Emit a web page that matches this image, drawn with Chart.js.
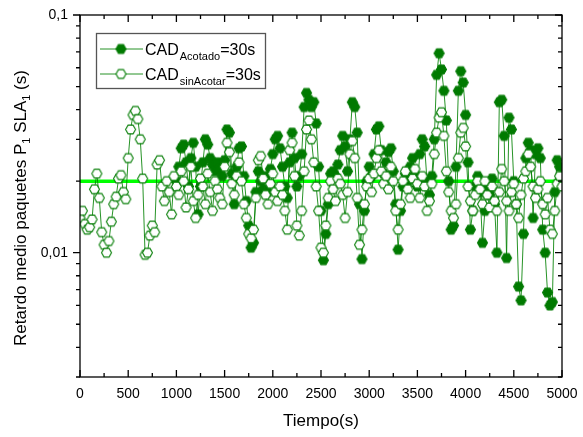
<!DOCTYPE html>
<html><head><meta charset="utf-8">
<script src="https://cdn.jsdelivr.net/npm/chart.js@4.4.1/dist/chart.umd.min.js"></script>
<style>html,body{margin:0;padding:0;background:#fff;overflow:hidden}</style>
</head><body>
<canvas id="c" width="583" height="437"></canvas>
<script>
// ---------- DATA ----------
const times = [
0,25,50,75,100,125,150,175,200,225,250,275,300,325,350,375,400,425,450,475,
500,525,550,575,600,625,650,675,700,725,750,775,800,825,850,875,900,925,950,975,
1000,1025,1050,1075,1100,1125,1150,1175,1200,1225,1250,1275,1300,1325,1350,1375,1400,1425,1450,1475,
1500,1525,1550,1575,1600,1625,1650,1675,1700,1725,1750,1775,1800,1825,1850,1875,1900,1925,1950,1975,
2000,2025,2050,2075,2100,2125,2150,2175,2200,2225,2250,2275,2300,2325,2350,2375,2400,2425,2450,2475,
2500,2525,2550,2575,2600,2625,2650,2675,2700,2725,2750,2775,2800,2825,2850,2875,2900,2925,2950,2975,
3000,3025,3050,3075,3100,3125,3150,3175,3200,3225,3250,3275,3300,3325,3350,3375,3400,3425,3450,3475,
3500,3525,3550,3575,3600,3625,3650,3675,3700,3725,3750,3775,3800,3825,3850,3875,3900,3925,3950,3975,
4000,4025,4050,4075,4100,4125,4150,4175,4200,4225,4250,4275,4300,4325,4350,4375,4400,4425,4450,4475,
4500,4525,4550,4575,4600,4625,4650,4675,4700,4725,4750,4775,4800,4825,4850,4875,4900,4925,4950,4975,
5000];

// CAD_sinAcotar = 30 s (hollow hexagons)
const sinAcotar = [
0.0140,0.0150,0.0132,0.0125,0.0128,0.0138,0.0185,0.0215,0.0170,0.0122,0.0108,0.0100,0.0112,0.0135,0.0160,0.0172,0.0205,0.0212,0.0180,0.0168,
0.0250,0.0330,0.0380,0.0395,0.0365,0.0300,0.0205,0.0098,0.0100,0.0118,0.0130,0.0122,0.0235,0.0245,0.0190,0.0165,0.0200,0.0180,0.0145,0.0210,
0.0190,0.0175,0.0220,0.0200,0.0155,0.0185,0.0230,0.0165,0.0140,0.0175,0.0205,0.0190,0.0160,0.0215,0.0180,0.0150,0.0200,0.0185,0.0170,0.0160,
0.0230,0.0290,0.0265,0.0195,0.0175,0.0210,0.0240,0.0200,0.0160,0.0140,0.0120,0.0115,0.0125,0.0170,0.0245,0.0255,0.0205,0.0175,0.0160,0.0195,
0.0215,0.0180,0.0165,0.0190,0.0175,0.0150,0.0125,0.0270,0.0290,0.0210,0.0130,0.0118,0.0150,0.0220,0.0330,0.0360,0.0300,0.0240,0.0190,0.0150,
0.0105,0.0100,0.0130,0.0170,0.0200,0.0185,0.0165,0.0205,0.0195,0.0175,0.0140,0.0180,0.0260,0.0295,0.0250,0.0170,0.0108,0.0125,0.0160,0.0190,
0.0205,0.0180,0.0215,0.0250,0.0270,0.0220,0.0195,0.0210,0.0185,0.0230,0.0200,0.0150,0.0125,0.0160,0.0200,0.0220,0.0185,0.0170,0.0205,0.0225,
0.0195,0.0170,0.0210,0.0190,0.0150,0.0165,0.0195,0.0260,0.0320,0.0370,0.0390,0.0310,0.0220,0.0180,0.0150,0.0140,0.0160,0.0250,0.0320,0.0335,
0.0280,0.0190,0.0165,0.0150,0.0175,0.0200,0.0185,0.0160,0.0200,0.0175,0.0155,0.0190,0.0165,0.0150,0.0180,0.0225,0.0200,0.0165,0.0150,0.0180,
0.0195,0.0160,0.0140,0.0175,0.0205,0.0220,0.0260,0.0230,0.0190,0.0170,0.0185,0.0200,0.0160,0.0145,0.0170,0.0125,0.0120,0.0150,0.0195,0.0210,
0.0190];

// CAD_Acotado = 30 s (filled hexagons)
const acotado = [
null,null,null,null,null,null,null,null,null,null,null,null,null,null,null,null,null,null,null,null,
null,null,null,null,null,null,null,null,null,null,null,null,null,null,null,null,null,null,null,null,
0.0200,0.0230,0.0275,0.0285,0.0240,0.0190,0.0250,0.0290,0.0230,0.0145,0.0190,0.0240,0.0300,0.0285,0.0250,0.0235,0.0220,0.0240,0.0225,0.0210,
0.0245,0.0330,0.0320,0.0215,0.0160,0.0230,0.0275,0.0280,0.0210,0.0165,0.0130,0.0105,0.0110,0.0180,0.0220,0.0200,0.0185,0.0210,0.0180,0.0225,
0.0260,0.0300,0.0310,0.0275,0.0230,0.0190,0.0170,0.0240,0.0320,0.0250,0.0190,0.0210,0.0260,0.0410,0.0470,0.0440,0.0410,0.0430,0.0350,0.0230,
0.0150,0.0093,0.0120,0.0160,0.0215,0.0220,0.0210,0.0235,0.0270,0.0310,0.0280,0.0220,0.0300,0.0430,0.0410,0.0320,0.0160,0.0094,0.0150,0.0200,
0.0230,0.0210,0.0260,0.0330,0.0340,0.0270,0.0215,0.0240,0.0265,0.0275,0.0220,0.0160,0.0103,0.0150,0.0190,0.0215,0.0200,0.0230,0.0250,0.0215,
0.0190,0.0260,0.0300,0.0280,0.0200,0.0175,0.0210,0.0300,0.0560,0.0690,0.0590,0.0480,0.0360,0.0200,0.0125,0.0130,0.0230,0.0480,0.0580,0.0520,
0.0380,0.0240,0.0125,0.0150,0.0190,0.0210,0.0180,0.0110,0.0150,0.0190,0.0175,0.0205,0.0160,0.0100,0.0430,0.0440,0.0310,0.0095,0.0370,0.0330,
0.0200,0.0160,0.0072,0.0063,0.0120,0.0250,0.0290,0.0270,0.0140,0.0260,0.0275,0.0250,0.0125,0.0100,0.0068,0.0060,0.0062,0.0180,0.0245,0.0230,
0.0210];

// reference level (bright green line)
const refX = [0, 5000];
const refY = [0.02, 0.02];

const xTicks = [0,500,1000,1500,2000,2500,3000,3500,4000,4500,5000];
const yLabels = {"0.1": "0,1", "0.01": "0,01"};
const legendLabels = [
  {main: "CAD", sub: "Acotado", tail: "=30s"},
  {main: "CAD", sub: "sinAcotar", tail: "=30s"}
];
const xTitle = "Tiempo(s)";

// ---------- STYLE ----------
const FONT = '"Liberation Sans", Arial, Helvetica, sans-serif';
const GREEN = '#007a00';
const LINEGREEN = 'rgba(0,128,0,0.85)';

function hexCanvas(fill, stroke, r) {
  const s = Math.ceil(2 * r + 3);
  const c = document.createElement('canvas');
  c.width = s; c.height = s;
  const g = c.getContext('2d');
  const cx = s / 2, cy = s / 2;
  g.beginPath();
  for (let k = 0; k < 6; k++) {
    const a = Math.PI / 3 * k;
    const px = cx + r * Math.cos(a), py = cy + r * Math.sin(a);
    if (k === 0) g.moveTo(px, py); else g.lineTo(px, py);
  }
  g.closePath();
  g.fillStyle = fill; g.fill();
  g.lineWidth = 1.1; g.strokeStyle = stroke; g.stroke();
  return c;
}
const hexFilled = hexCanvas(GREEN, GREEN, 5);
const hexHollow = hexCanvas('#ffffff', '#0b800b', 5);

const toXY = (xs, ys) => xs.map((x, i) => ({x: x, y: ys[i]}));

const decor = {
  id: 'decor',
  afterDraw(chart) {
    const ctx = chart.ctx;
    const a = chart.chartArea;
    const xs = chart.scales.x, ys = chart.scales.y;
    ctx.save();
    // frame
    ctx.strokeStyle = '#000'; ctx.lineWidth = 1.3;
    ctx.strokeRect(a.left, a.top, a.right - a.left, a.bottom - a.top);
    // x ticks (inward, bottom and top)
    for (let v = 0; v <= 5000; v += 250) {
      const px = xs.getPixelForValue(v);
      const len = (v % 500 === 0) ? 7 : 4;
      ctx.beginPath();
      ctx.moveTo(px, a.bottom); ctx.lineTo(px, a.bottom - len);
      ctx.moveTo(px, a.top); ctx.lineTo(px, a.top + len);
      ctx.stroke();
    }
    // y ticks (left outward, right inward)
    for (let e = -3; e <= -1; e++) {
      for (let m = 1; m <= 9; m++) {
        const v = m * Math.pow(10, e);
        if (v < 0.00299 || v > 0.1001) continue;
        const py = ys.getPixelForValue(v);
        const len = (m === 1) ? 7 : 4;
        ctx.beginPath();
        ctx.moveTo(a.left, py); ctx.lineTo(a.left - len, py);
        ctx.moveTo(a.right, py); ctx.lineTo(a.right - len, py);
        ctx.stroke();
      }
    }
    // x title
    ctx.fillStyle = '#000';
    ctx.font = '17px ' + FONT;
    ctx.textAlign = 'center'; ctx.textBaseline = 'alphabetic';
    ctx.fillText(xTitle, (a.left + a.right) / 2, 426);
    // y title with subscripts
    const parts = [
      ['Retardo medio paquetes P', false], ['1', true], [' SLA', false], ['1', true], [' (s)', false]
    ];
    const fMain = '17px ' + FONT, fSub = '11px ' + FONT;
    let total = 0;
    parts.forEach(p => { ctx.font = p[1] ? fSub : fMain; total += ctx.measureText(p[0]).width; });
    ctx.translate(26, 208);
    ctx.rotate(-Math.PI / 2);
    ctx.textAlign = 'left';
    let cx = -total / 2;
    parts.forEach(p => {
      ctx.font = p[1] ? fSub : fMain;
      ctx.fillText(p[0], cx, p[1] ? 4 : 0);
      cx += ctx.measureText(p[0]).width;
    });
    ctx.setTransform(1, 0, 0, 1, 0, 0);
    // legend
    ctx.fillStyle = '#fff';
    ctx.fillRect(96, 33, 170, 56);
    ctx.strokeStyle = '#555'; ctx.lineWidth = 1.3;
    ctx.strokeRect(96.5, 33.5, 169, 55);
    const rows = [
      {y: 49, img: hexFilled, base: 54.5},
      {y: 74, img: hexHollow, base: 80}
    ];
    rows.forEach((r, i) => {
      ctx.strokeStyle = LINEGREEN; ctx.lineWidth = 1;
      ctx.beginPath(); ctx.moveTo(100, r.y); ctx.lineTo(143, r.y); ctx.stroke();
      ctx.drawImage(r.img, 121 - r.img.width / 2, r.y - r.img.height / 2);
      const L = legendLabels[i];
      ctx.fillStyle = '#000'; ctx.textAlign = 'left';
      let x = 145;
      ctx.font = '16px ' + FONT;
      ctx.fillText(L.main, x, r.base); x += ctx.measureText(L.main).width + 1;
      ctx.font = '11px ' + FONT;
      ctx.fillText(L.sub, x, r.base + 5); x += ctx.measureText(L.sub).width;
      ctx.font = '16px ' + FONT;
      ctx.fillText(L.tail, x, r.base);
    });
    ctx.restore();
  }
};

new Chart(document.getElementById('c'), {
  type: 'line',
  data: {
    datasets: [
      {
        label: 'CAD Acotado=30s',
        data: toXY(times, acotado),
        borderColor: LINEGREEN, borderWidth: 1,
        pointStyle: hexFilled, pointRadius: 5,
        tension: 0, spanGaps: false, order: 2
      },
      {
        label: 'CAD sinAcotar=30s',
        data: toXY(times, sinAcotar),
        borderColor: LINEGREEN, borderWidth: 1,
        pointStyle: hexHollow, pointRadius: 5,
        tension: 0, order: 1
      },
      {
        label: 'ref',
        data: toXY(refX, refY),
        borderColor: '#00ff00', borderWidth: 3.5,
        pointRadius: 0, tension: 0, order: 3
      }
    ]
  },
  options: {
    responsive: false, animation: false, devicePixelRatio: 1,
    layout: {padding: {top: 15, right: 21, left: 0, bottom: 0}},
    plugins: {legend: {display: false}, tooltip: {enabled: false}},
    scales: {
      x: {
        type: 'linear', min: 0, max: 5000,
        grid: {display: false, drawTicks: false},
        border: {display: false},
        afterBuildTicks: s => { s.ticks = xTicks.map(v => ({value: v})); },
        afterFit: s => { s.height = 60; s.paddingLeft = 0; s.paddingRight = 0; },
        ticks: {
          font: {family: FONT, size: 14}, color: '#000', padding: 9,
          maxRotation: 0, autoSkip: false,
          callback: v => String(v)
        }
      },
      y: {
        type: 'logarithmic', min: 0.003, max: 0.1,
        grid: {display: false, drawTicks: false},
        border: {display: false},
        afterBuildTicks: s => { s.ticks = Object.keys(yLabels).map(k => ({value: parseFloat(k)})); },
        afterFit: s => { s.width = 80; s.paddingTop = 0; s.paddingBottom = 0; },
        ticks: {
          font: {family: FONT, size: 14}, color: '#000', padding: 12,
          autoSkip: false,
          callback: v => yLabels[String(v)] || ''
        }
      }
    }
  },
  plugins: [decor]
});
</script>
</body></html>
